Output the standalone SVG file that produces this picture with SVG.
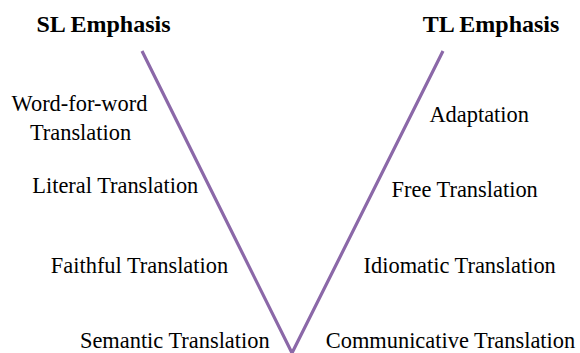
<svg xmlns="http://www.w3.org/2000/svg" width="580" height="353" viewBox="0 0 580 353">
<style>
.t{font-family:"Liberation Serif","Times New Roman",serif;font-size:22.4px;fill:#000;text-anchor:middle}
.h{font-family:"Liberation Serif","Times New Roman",serif;font-size:24px;font-weight:bold;fill:#000;text-anchor:middle}
.ln{stroke:#8B68A8;stroke-width:3.2;fill:none;stroke-linecap:butt;stroke-linejoin:miter}
</style>
<rect width="580" height="353" fill="#fff"/>
<g id="connectors">
<polyline class="ln" points="142,51 292,353 443,51"/>
</g>
<g id="sl-emphasis"><text class="h" x="103.5" y="32">SL Emphasis</text></g>
<g id="tl-emphasis"><text class="h" x="491" y="32">TL Emphasis</text></g>
<g id="word-for-word"><text class="t" x="79.5" y="110.7">Word-for-word</text><text class="t" x="80.5" y="140">Translation</text></g>
<g id="literal"><text class="t" x="115.3" y="192.7">Literal Translation</text></g>
<g id="faithful"><text class="t" x="139.5" y="273.3">Faithful Translation</text></g>
<g id="semantic"><text class="t" x="174.8" y="348.3">Semantic Translation</text></g>
<g id="adaptation"><text class="t" x="479.2" y="121.7">Adaptation</text></g>
<g id="free"><text class="t" x="464.7" y="196.7">Free Translation</text></g>
<g id="idiomatic"><text class="t" x="459.7" y="273.3">Idiomatic Translation</text></g>
<g id="communicative"><text class="t" x="450.5" y="348.3">Communicative Translation</text></g>
</svg>
